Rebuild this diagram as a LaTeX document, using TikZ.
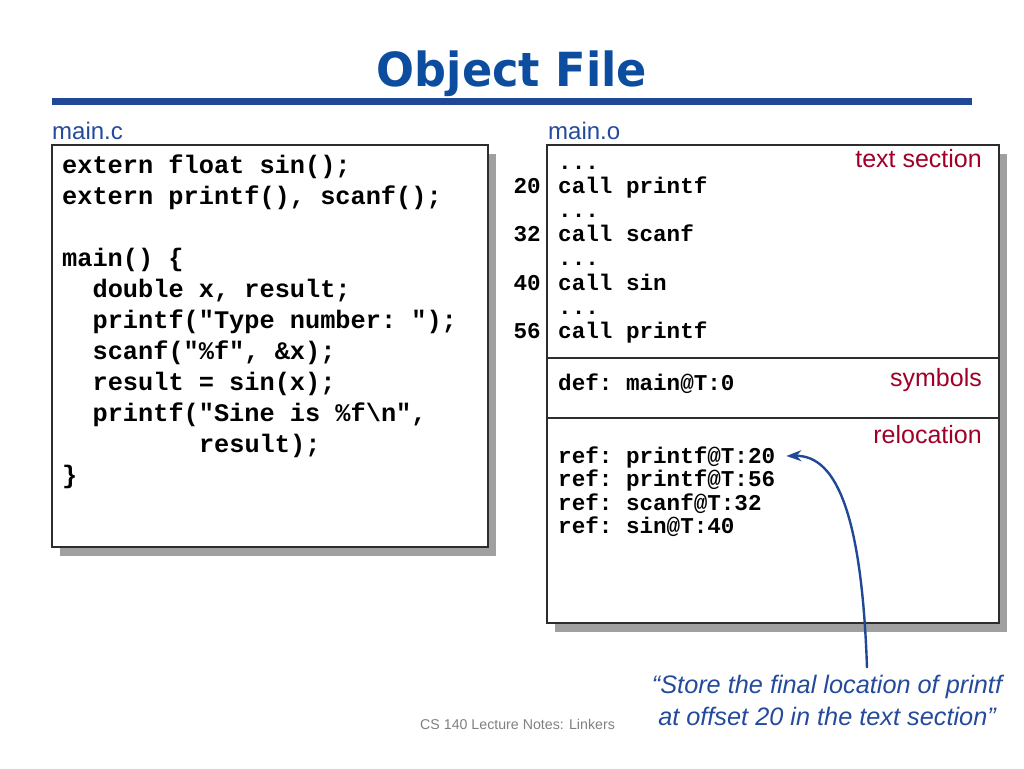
\documentclass[tikz,border=0pt]{standalone}
\usepackage{fontspec}
\setmainfont{Liberation Sans}
\setmonofont{Liberation Mono}
\newfontfamily\titlefont{DejaVu Sans}
\usetikzlibrary{arrows.meta}
\definecolor{titleblue}{RGB}{13,77,160}
\definecolor{rulebl}{RGB}{33,72,150}
\definecolor{labelblue}{RGB}{36,74,156}
\definecolor{sectred}{RGB}{160,0,40}
\definecolor{boxborder}{RGB}{45,45,45}
\definecolor{shadowgray}{RGB}{160,160,160}
\definecolor{footgray}{RGB}{128,128,128}
\tikzset{
  code/.style={anchor=base west, inner sep=0pt, font=\ttfamily\bfseries\fontsize{25.3}{31}\selectfont},
  ocode/.style={anchor=base west, inner sep=0pt, font=\ttfamily\bfseries\fontsize{22.6}{24}\selectfont},
  onum/.style={anchor=base east, inner sep=0pt, font=\ttfamily\bfseries\fontsize{22.6}{24}\selectfont},
  filelbl/.style={anchor=base west, inner sep=0pt, text=labelblue, font=\fontsize{24}{28}\selectfont},
  sect/.style={anchor=base east, inner sep=0pt, text=sectred, font=\fontsize{25}{28}\selectfont},
  filebox/.style={draw=boxborder, line width=1.5pt, fill=white, inner sep=0pt, anchor=north west},
  shadowbox/.style={fill=shadowgray, draw=none, inner sep=0pt, anchor=north west},
  divider/.style={draw=boxborder, line width=1.3pt},
  callout/.style={draw=rulebl, line width=2.4pt, -{Stealth[length=15pt,width=11pt]}},
}
\begin{document}
\begin{tikzpicture}[x=1pt,y=-1pt]
\useasboundingbox (0,0) rectangle (1024,768);
% title
\node[anchor=base, inner sep=0pt, text=titleblue, font=\titlefont\bfseries\fontsize{47}{50}\selectfont, xscale=0.95] (title) at (512,86) {Object File};
\fill[rulebl] (52,98) rectangle (972,105);
% left box
\node[filelbl] (lc) at (52,139) {main.c};
\node[shadowbox, minimum width=436pt, minimum height=402pt] (cshadow) at (60,154) {};
\node[filebox, minimum width=436pt, minimum height=402pt] (cbox) at (51,144) {};
\node[code] (c1) at (62,173) {extern float sin();};
\node[code] (c2) at (62,204) {extern printf(), scanf();};
\node[code] (c3) at (62,266) {main() \{};
\node[code] (c4) at (92.4,297) {double x, result;};
\node[code] (c5) at (92.4,328) {printf("Type number: ");};
\node[code] (c6) at (92.4,359) {scanf("\%f", \&x);};
\node[code] (c7) at (92.4,390) {result = sin(x);};
\node[code] (c8) at (92.4,421) {printf("Sine is \%f\textbackslash n",};
\node[code] (c9) at (198.8,452) {result);};
\node[code] (c10) at (62,483) {\}};
% right box
\node[filelbl] (lo) at (548,139) {main.o};
\node[shadowbox, minimum width=452pt, minimum height=478pt] (oshadow) at (555,154) {};
\node[filebox, minimum width=452pt, minimum height=478pt] (obox) at (546,144) {};
\draw[divider] (546,358) -- (998,358);
\draw[divider] (546,418) -- (998,418);
\node[sect] (s1) at (982,167) {text section};
\node[sect] (s2) at (982,386) {symbols};
\node[sect] (s3) at (982,443) {relocation};
\node[ocode] (t1) at (558,169.5) {...};
\node[ocode] (t2) at (558,193.6) {call printf};
\node[ocode] (t3) at (558,217.7) {...};
\node[ocode] (t4) at (558,241.8) {call scanf};
\node[ocode] (t5) at (558,265.9) {...};
\node[ocode] (t6) at (558,290) {call sin};
\node[ocode] (t7) at (558,314.1) {...};
\node[ocode] (t8) at (558,338.2) {call printf};
\node[onum] (n1) at (541,193.6) {20};
\node[onum] (n2) at (541,241.8) {32};
\node[onum] (n3) at (541,290) {40};
\node[onum] (n4) at (541,338.2) {56};
\node[ocode] (d1) at (558,390) {def: main@T:0};
\node[ocode] (r1) at (558,463) {ref: printf@T:20};
\node[ocode] (r2) at (558,486.5) {ref: printf@T:56};
\node[ocode] (r3) at (558,510) {ref: scanf@T:32};
\node[ocode] (r4) at (558,533.5) {ref: sin@T:40};
% callout
\node[anchor=base, inner sep=0pt, text=labelblue, font=\itshape\fontsize{25.3}{32}\selectfont] (q1) at (827,693) {“Store the final location of printf};
\node[anchor=base, inner sep=0pt, text=labelblue, font=\itshape\fontsize{25.3}{32}\selectfont] (q2) at (827,725) {at offset 20 in the text section”};
\coordinate (astart) at (867,668);
\coordinate (atip) at ([xshift=11pt,yshift=1pt]r1.east);
\draw[callout] (astart) .. controls (862,520) and (838,455) .. (atip);
% footer
\node[anchor=base west, inner sep=0pt, text=footgray, font=\fontsize{14.2}{16}\selectfont] (foot) at (420,729) {CS 140 Lecture Notes: Linkers};
\end{tikzpicture}
\end{document}
